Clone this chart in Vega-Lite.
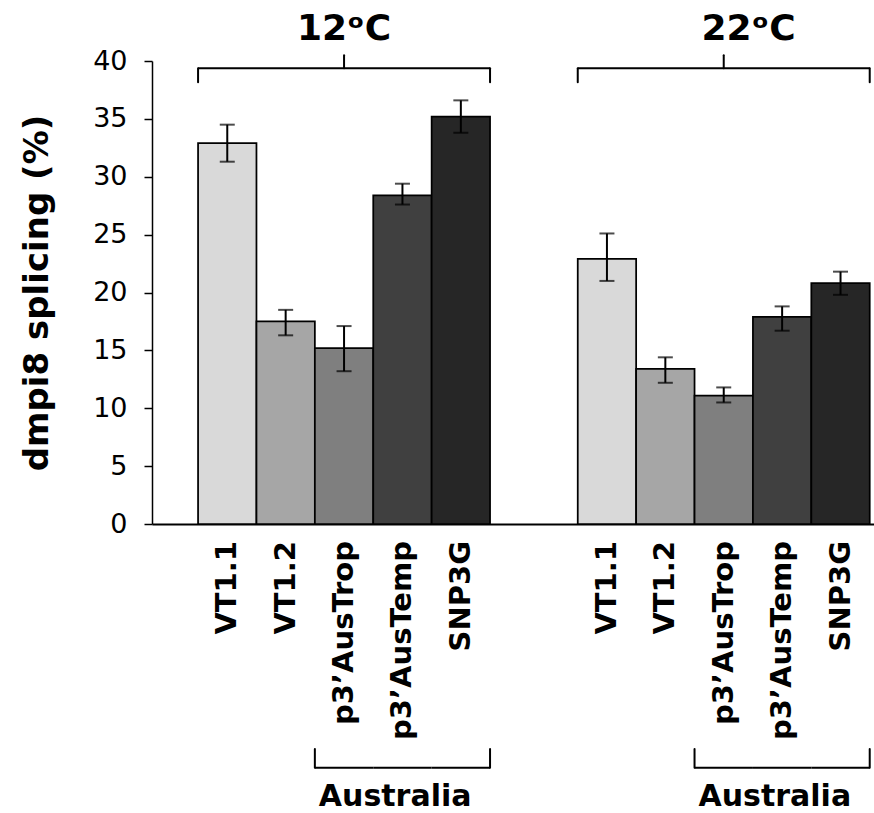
{
  "$schema": "https://vega.github.io/schema/vega-lite/v6.json",
  "width": 722,
  "height": 463,
  "autosize": {"type": "none"},
  "padding": {"left": 152, "top": 61, "right": 0, "bottom": 289},
  "background": "white",
  "config": {"view": {"stroke": null}, "axis": {"grid": false}},
  "data": {
    "values": [
      {"temp": "12ᵒC", "strain": "VT1.1", "value": 32.9, "lo": 31.3, "hi": 34.5},
      {"temp": "12ᵒC", "strain": "VT1.2", "value": 17.5, "lo": 16.3, "hi": 18.5},
      {"temp": "12ᵒC", "strain": "p3’AusTrop", "value": 15.2, "lo": 13.2, "hi": 17.1},
      {"temp": "12ᵒC", "strain": "p3’AusTemp", "value": 28.4, "lo": 27.6, "hi": 29.4},
      {"temp": "12ᵒC", "strain": "SNP3G", "value": 35.2, "lo": 33.8, "hi": 36.6},
      {"temp": "22ᵒC", "strain": "VT1.1", "value": 22.9, "lo": 21.0, "hi": 25.1},
      {"temp": "22ᵒC", "strain": "VT1.2", "value": 13.4, "lo": 12.2, "hi": 14.4},
      {"temp": "22ᵒC", "strain": "p3’AusTrop", "value": 11.1, "lo": 10.5, "hi": 11.8},
      {"temp": "22ᵒC", "strain": "p3’AusTemp", "value": 17.9, "lo": 16.7, "hi": 18.8},
      {"temp": "22ᵒC", "strain": "SNP3G", "value": 20.8, "lo": 19.8, "hi": 21.8}
    ]
  },
  "layer": [
    {
      "mark": {"type": "bar", "stroke": "black", "strokeWidth": 1.75},
      "encoding": {
        "x": {"field": "temp", "type": "nominal", "title": null,
          "scale": {"type": "band", "domain": ["12ᵒC", "22ᵒC"], "paddingInner": 0.231, "paddingOuter": 0.0663, "align": 0.915},
          "axis": {"labels": false, "ticks": false, "domainColor": "black", "domainWidth": 2, "title": null}},
        "xOffset": {"field": "strain", "type": "nominal",
          "scale": {"domain": ["VT1.1", "VT1.2", "p3’AusTrop", "p3’AusTemp", "SNP3G"], "paddingInner": 0, "paddingOuter": 0}},
        "y": {"field": "value", "type": "quantitative",
          "scale": {"domain": [0, 40]},
          "axis": {"values": [0, 5, 10, 15, 20, 25, 30, 35, 40], "tickSize": 8, "tickWidth": 1.5, "tickColor": "black",
            "domainColor": "black", "domainWidth": 1.5, "labelFont": "DejaVu Sans", "labelFontSize": 27, "labelColor": "black",
            "labelPadding": 17, "title": "dmpi8 splicing (%)", "titleFont": "DejaVu Sans", "titleFontSize": 34,
            "titleFontWeight": "bold", "titleColor": "black", "titlePadding": 38, "grid": false}},
        "color": {"field": "strain", "type": "nominal",
          "scale": {"domain": ["VT1.1", "VT1.2", "p3’AusTrop", "p3’AusTemp", "SNP3G"], "range": ["#d9d9d9", "#a6a6a6", "#7f7f7f", "#404040", "#262626"]},
          "legend": null}
      }
    },
    {
      "mark": {"type": "rule", "color": "black", "strokeWidth": 2},
      "encoding": {
        "x": {"field": "temp", "type": "nominal", "title": null},
        "xOffset": {"field": "strain", "type": "nominal"},
        "y": {"field": "lo", "type": "quantitative"},
        "y2": {"field": "hi"}
      }
    },
    {
      "mark": {"type": "tick", "color": "black", "size": 15, "thickness": 2},
      "encoding": {
        "x": {"field": "temp", "type": "nominal", "title": null},
        "xOffset": {"field": "strain", "type": "nominal"},
        "y": {"field": "lo", "type": "quantitative"}
      }
    },
    {
      "mark": {"type": "tick", "color": "black", "size": 15, "thickness": 2},
      "encoding": {
        "x": {"field": "temp", "type": "nominal", "title": null},
        "xOffset": {"field": "strain", "type": "nominal"},
        "y": {"field": "hi", "type": "quantitative"}
      }
    },
    {
      "mark": {"type": "text", "angle": 270, "align": "right", "baseline": "middle", "dx": -17,
        "font": "DejaVu Sans", "fontSize": 29, "fontWeight": "bold", "color": "black"},
      "encoding": {
        "x": {"field": "temp", "type": "nominal", "title": null},
        "xOffset": {"field": "strain", "type": "nominal"},
        "y": {"datum": 0},
        "text": {"field": "strain"}
      }
    },
    {
      "transform": [{"filter": "datum.strain === 'VT1.1'"}],
      "mark": {"type": "bar", "fill": "transparent", "stroke": "black", "strokeWidth": 2},
      "encoding": {
        "x": {"field": "temp", "type": "nominal", "title": null},
        "y": {"datum": 39.38},
        "y2": {"datum": 39.38}
      }
    },
    {
      "transform": [{"filter": "datum.strain === 'VT1.1'"}],
      "mark": {"type": "rule", "color": "black", "strokeWidth": 2, "strokeCap": "round"},
      "encoding": {
        "x": {"field": "temp", "type": "nominal", "bandPosition": 0, "title": null},
        "y": {"datum": 38.17},
        "y2": {"datum": 39.38}
      }
    },
    {
      "transform": [{"filter": "datum.strain === 'VT1.1'"}],
      "mark": {"type": "rule", "color": "black", "strokeWidth": 2, "strokeCap": "round"},
      "encoding": {
        "x": {"field": "temp", "type": "nominal", "bandPosition": 1, "title": null},
        "y": {"datum": 38.17},
        "y2": {"datum": 39.38}
      }
    },
    {
      "transform": [{"filter": "datum.strain === 'VT1.1'"}],
      "mark": {"type": "rule", "color": "black", "strokeWidth": 2, "strokeCap": "round"},
      "encoding": {
        "x": {"field": "temp", "type": "nominal", "bandPosition": 0.5, "title": null},
        "y": {"datum": 39.38},
        "y2": {"datum": 40.5}
      }
    },
    {
      "transform": [{"filter": "datum.strain === 'VT1.1' && datum.temp === '12ᵒC'"}],
      "mark": {"type": "text", "baseline": "alphabetic", "dy": -21, "font": "DejaVu Sans", "fontSize": 36, "fontWeight": "bold", "color": "black"},
      "encoding": {
        "x": {"field": "temp", "type": "nominal", "bandPosition": 0.5, "title": null},
        "y": {"datum": 40},
        "text": {"field": "temp"}
      }
    },
    {
      "transform": [{"filter": "datum.strain === 'VT1.1' && datum.temp === '22ᵒC'"}],
      "mark": {"type": "text", "baseline": "alphabetic", "dy": -21, "font": "DejaVu Sans", "fontSize": 36, "fontWeight": "bold", "color": "black"},
      "encoding": {
        "x": {"field": "temp", "type": "nominal", "bandPosition": 0.585, "title": null},
        "y": {"datum": 40},
        "text": {"field": "temp"}
      }
    },
    {
      "transform": [{"filter": "datum.strain !== 'VT1.1' && datum.strain !== 'VT1.2'"}],
      "mark": {"type": "bar", "fill": "transparent", "stroke": "black", "strokeWidth": 2},
      "encoding": {
        "x": {"field": "temp", "type": "nominal", "title": null},
        "xOffset": {"field": "strain", "type": "nominal"},
        "y": {"datum": -21.05},
        "y2": {"datum": -21.05}
      }
    },
    {
      "transform": [{"filter": "datum.strain === 'VT1.1'"}],
      "mark": {"type": "rule", "color": "black", "strokeWidth": 2, "strokeCap": "round"},
      "encoding": {
        "x": {"field": "temp", "type": "nominal", "bandPosition": 0.4, "title": null},
        "y": {"datum": -19.43},
        "y2": {"datum": -21.05}
      }
    },
    {
      "transform": [{"filter": "datum.strain === 'VT1.1'"}],
      "mark": {"type": "rule", "color": "black", "strokeWidth": 2, "strokeCap": "round"},
      "encoding": {
        "x": {"field": "temp", "type": "nominal", "bandPosition": 1, "title": null},
        "y": {"datum": -19.43},
        "y2": {"datum": -21.05}
      }
    },
    {
      "transform": [{"filter": "datum.strain === 'VT1.1'"}],
      "mark": {"type": "text", "text": "Australia", "baseline": "alphabetic", "dy": 282, "font": "DejaVu Sans", "fontSize": 30, "fontWeight": "bold", "color": "black"},
      "encoding": {
        "x": {"field": "temp", "type": "nominal", "bandPosition": 0.675, "title": null},
        "y": {"datum": 0}
      }
    }
  ]
}
